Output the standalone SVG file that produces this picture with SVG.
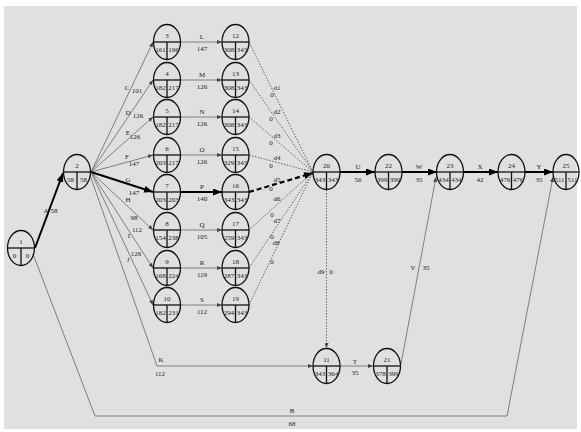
<svg xmlns="http://www.w3.org/2000/svg" width="581" height="432" viewBox="0 0 581 432">
<style>
.n ellipse{fill:none;stroke:#111;stroke-width:1.3}
.n line{stroke:#111;stroke-width:1.3}
text{font-family:"Liberation Serif","Times New Roman",serif;font-size:7px;fill:#222;text-anchor:middle}
.thin{stroke:#555;stroke-width:0.7;fill:none}
.heavy{stroke:#000;stroke-width:2;fill:none}
.dot{stroke:#444;stroke-width:0.8;stroke-dasharray:1.5 1.5;fill:none}
.hdash{stroke:#000;stroke-width:2.2;stroke-dasharray:5 3;fill:none}
</style>
<defs>
<marker id="ah" markerUnits="userSpaceOnUse" markerWidth="9" markerHeight="7" refX="9" refY="3.5" orient="auto"><path d="M0,0 L9,3.5 L0,7 z" fill="#000"/></marker>
<marker id="at" markerUnits="userSpaceOnUse" markerWidth="5" markerHeight="4" refX="5" refY="2" orient="auto"><path d="M0,0 L5,2 L0,4 z" fill="#444"/></marker>
</defs>
<rect width="581" height="432" fill="#fff"/>
<rect x="4" y="6" width="573" height="423" fill="#e0e0e0"/>
<g id="connectors">
<path class="heavy" d="M35,248 L63,173" marker-end="url(#ah)"/>
<path class="thin" d="M33,254 L95,416 L507,416 L553,177" marker-end="url(#at)"/>
<path class="thin" d="M91,172 L153,42" marker-end="url(#at)"/>
<path class="thin" d="M91,172 L153,80" marker-end="url(#at)"/>
<path class="thin" d="M91,172 L153,117" marker-end="url(#at)"/>
<path class="thin" d="M91,172 L153,155" marker-end="url(#at)"/>
<path class="heavy" d="M91,172 L153,192" marker-end="url(#ah)"/>
<path class="thin" d="M91,172 L153,230" marker-end="url(#at)"/>
<path class="thin" d="M91,172 L153,268" marker-end="url(#at)"/>
<path class="thin" d="M91,172 L153,305" marker-end="url(#at)"/>
<path class="thin" d="M90,175 L157,366 L313,366" marker-end="url(#at)"/>
<path class="thin" d="M181,42 L222,42" marker-end="url(#at)"/>
<path class="thin" d="M181,80 L222,80" marker-end="url(#at)"/>
<path class="thin" d="M181,117 L222,117" marker-end="url(#at)"/>
<path class="thin" d="M181,155 L222,155" marker-end="url(#at)"/>
<path class="heavy" d="M181,192 L222,192" marker-end="url(#ah)"/>
<path class="thin" d="M181,230 L222,230" marker-end="url(#at)"/>
<path class="thin" d="M181,268 L222,268" marker-end="url(#at)"/>
<path class="thin" d="M181,305 L222,305" marker-end="url(#at)"/>
<path class="dot" d="M249,42 L313,172"/>
<path class="dot" d="M249,80 L313,172"/>
<path class="dot" d="M249,117 L313,172"/>
<path class="dot" d="M249,155 L313,172"/>
<path class="hdash" d="M249,192 L313,173" marker-end="url(#ah)"/>
<path class="dot" d="M249,230 L313,172"/>
<path class="dot" d="M249,268 L313,172"/>
<path class="dot" d="M249,305 L313,172"/>
<path class="dot" d="M326.5,190 L326.5,348" marker-end="url(#at)"/>
<path class="heavy" d="M340,172 L375,172" marker-end="url(#ah)"/>
<path class="heavy" d="M402,172 L437,172" marker-end="url(#ah)"/>
<path class="heavy" d="M463,172 L498,172" marker-end="url(#ah)"/>
<path class="heavy" d="M525,172 L553,172" marker-end="url(#ah)"/>
<path class="thin" d="M340,366 L373,366" marker-end="url(#at)"/>
<path class="thin" d="M401,364 L436,177" marker-end="url(#at)"/>
</g>
<g id="labels">
<text x="46" y="213">A</text><text x="54" y="213">58</text>
<text x="292" y="412.5">B</text><text x="292" y="425.5">68</text>
<text x="127" y="90">C</text><text x="137" y="93">101</text>
<text x="128" y="115">D</text><text x="138" y="118">126</text>
<text x="128" y="135">E</text><text x="135" y="139">126</text>
<text x="127" y="159">F</text><text x="134" y="166">147</text>
<text x="128" y="182">G</text><text x="134" y="195">147</text>
<text x="128" y="202">H</text><text x="134" y="220">98</text>
<text x="137" y="232">112</text><text x="129" y="238">I</text>
<text x="136" y="256">126</text><text x="128" y="262">J</text>
<text x="161" y="361.5">K</text><text x="160" y="375.5">112</text>
<text x="202" y="39">L</text><text x="202" y="51">147</text>
<text x="202" y="77">M</text><text x="202" y="89">126</text>
<text x="202" y="114">N</text><text x="202" y="126">126</text>
<text x="202" y="152">O</text><text x="202" y="164">126</text>
<text x="202" y="189">P</text><text x="202" y="201">140</text>
<text x="202" y="227">Q</text><text x="202" y="239">105</text>
<text x="202" y="265">R</text><text x="202" y="277">119</text>
<text x="202" y="302">S</text><text x="202" y="314">112</text>
<text x="277" y="90">d1</text><text x="272" y="97">0</text>
<text x="277" y="114">d2</text><text x="271" y="121">0</text>
<text x="277" y="138">d3</text><text x="271" y="145">0</text>
<text x="277" y="160">d4</text><text x="271" y="168">0</text>
<text x="277" y="182">d5</text><text x="271" y="191">0</text>
<text x="277" y="201">d6</text><text x="272" y="217">0</text>
<text x="277" y="223">d7</text><text x="272" y="239">0</text>
<text x="276" y="245">d8</text><text x="272" y="264">0</text>
<text x="321" y="274">d9</text><text x="331" y="274">0</text>
<text x="358" y="168.5">U</text><text x="358" y="182">56</text>
<text x="419" y="168.5">W</text><text x="419" y="182">35</text>
<text x="480" y="168.5">X</text><text x="480" y="182">42</text>
<text x="539" y="168.5">Y</text><text x="539" y="182">35</text>
<text x="355" y="363.5">T</text><text x="355" y="374.5">35</text>
<text x="413" y="269.5">V</text><text x="426" y="269.5">35</text>
</g>
<g id="node1" class="n" transform="translate(21,248)"><ellipse rx="13.5" ry="17.5"/><line x1="-13.5" y1="0" x2="13.5" y2="0"/><line x1="0" y1="0" x2="0" y2="17.5"/><text y="-4">1</text><text x="-6.5" y="9.5">0</text><text x="6.5" y="9.5">0</text></g>
<g id="node2" class="n" transform="translate(77,172)"><ellipse rx="13.5" ry="17.5"/><line x1="-13.5" y1="0" x2="13.5" y2="0"/><line x1="0" y1="0" x2="0" y2="17.5"/><text y="-4">2</text><text x="-6.5" y="9.5">58</text><text x="6.5" y="9.5">58</text></g>
<g id="node3" class="n" transform="translate(167,42)"><ellipse rx="13.5" ry="17.5"/><line x1="-13.5" y1="0" x2="13.5" y2="0"/><line x1="0" y1="0" x2="0" y2="17.5"/><text y="-4">3</text><text x="-6.5" y="9.5">161</text><text x="6.5" y="9.5">196</text></g>
<g id="node4" class="n" transform="translate(167,80)"><ellipse rx="13.5" ry="17.5"/><line x1="-13.5" y1="0" x2="13.5" y2="0"/><line x1="0" y1="0" x2="0" y2="17.5"/><text y="-4">4</text><text x="-6.5" y="9.5">182</text><text x="6.5" y="9.5">217</text></g>
<g id="node5" class="n" transform="translate(167,117)"><ellipse rx="13.5" ry="17.5"/><line x1="-13.5" y1="0" x2="13.5" y2="0"/><line x1="0" y1="0" x2="0" y2="17.5"/><text y="-4">5</text><text x="-6.5" y="9.5">182</text><text x="6.5" y="9.5">217</text></g>
<g id="node6" class="n" transform="translate(167,155)"><ellipse rx="13.5" ry="17.5"/><line x1="-13.5" y1="0" x2="13.5" y2="0"/><line x1="0" y1="0" x2="0" y2="17.5"/><text y="-4">6</text><text x="-6.5" y="9.5">203</text><text x="6.5" y="9.5">217</text></g>
<g id="node7" class="n" transform="translate(167,192)"><ellipse rx="13.5" ry="17.5"/><line x1="-13.5" y1="0" x2="13.5" y2="0"/><line x1="0" y1="0" x2="0" y2="17.5"/><text y="-4">7</text><text x="-6.5" y="9.5">203</text><text x="6.5" y="9.5">203</text></g>
<g id="node8" class="n" transform="translate(167,230)"><ellipse rx="13.5" ry="17.5"/><line x1="-13.5" y1="0" x2="13.5" y2="0"/><line x1="0" y1="0" x2="0" y2="17.5"/><text y="-4">8</text><text x="-6.5" y="9.5">154</text><text x="6.5" y="9.5">238</text></g>
<g id="node9" class="n" transform="translate(167,268)"><ellipse rx="13.5" ry="17.5"/><line x1="-13.5" y1="0" x2="13.5" y2="0"/><line x1="0" y1="0" x2="0" y2="17.5"/><text y="-4">9</text><text x="-6.5" y="9.5">168</text><text x="6.5" y="9.5">224</text></g>
<g id="node10" class="n" transform="translate(167,305)"><ellipse rx="13.5" ry="17.5"/><line x1="-13.5" y1="0" x2="13.5" y2="0"/><line x1="0" y1="0" x2="0" y2="17.5"/><text y="-4">10</text><text x="-6.5" y="9.5">182</text><text x="6.5" y="9.5">231</text></g>
<g id="node12" class="n" transform="translate(235.5,42)"><ellipse rx="13.5" ry="17.5"/><line x1="-13.5" y1="0" x2="13.5" y2="0"/><line x1="0" y1="0" x2="0" y2="17.5"/><text y="-4">12</text><text x="-6.5" y="9.5">308</text><text x="6.5" y="9.5">343</text></g>
<g id="node13" class="n" transform="translate(235.5,80)"><ellipse rx="13.5" ry="17.5"/><line x1="-13.5" y1="0" x2="13.5" y2="0"/><line x1="0" y1="0" x2="0" y2="17.5"/><text y="-4">13</text><text x="-6.5" y="9.5">308</text><text x="6.5" y="9.5">343</text></g>
<g id="node14" class="n" transform="translate(235.5,117)"><ellipse rx="13.5" ry="17.5"/><line x1="-13.5" y1="0" x2="13.5" y2="0"/><line x1="0" y1="0" x2="0" y2="17.5"/><text y="-4">14</text><text x="-6.5" y="9.5">308</text><text x="6.5" y="9.5">343</text></g>
<g id="node15" class="n" transform="translate(235.5,155)"><ellipse rx="13.5" ry="17.5"/><line x1="-13.5" y1="0" x2="13.5" y2="0"/><line x1="0" y1="0" x2="0" y2="17.5"/><text y="-4">15</text><text x="-6.5" y="9.5">329</text><text x="6.5" y="9.5">343</text></g>
<g id="node16" class="n" transform="translate(235.5,192)"><ellipse rx="13.5" ry="17.5"/><line x1="-13.5" y1="0" x2="13.5" y2="0"/><line x1="0" y1="0" x2="0" y2="17.5"/><text y="-4">16</text><text x="-6.5" y="9.5">343</text><text x="6.5" y="9.5">343</text></g>
<g id="node17" class="n" transform="translate(235.5,230)"><ellipse rx="13.5" ry="17.5"/><line x1="-13.5" y1="0" x2="13.5" y2="0"/><line x1="0" y1="0" x2="0" y2="17.5"/><text y="-4">17</text><text x="-6.5" y="9.5">259</text><text x="6.5" y="9.5">343</text></g>
<g id="node18" class="n" transform="translate(235.5,268)"><ellipse rx="13.5" ry="17.5"/><line x1="-13.5" y1="0" x2="13.5" y2="0"/><line x1="0" y1="0" x2="0" y2="17.5"/><text y="-4">18</text><text x="-6.5" y="9.5">287</text><text x="6.5" y="9.5">343</text></g>
<g id="node19" class="n" transform="translate(235.5,305)"><ellipse rx="13.5" ry="17.5"/><line x1="-13.5" y1="0" x2="13.5" y2="0"/><line x1="0" y1="0" x2="0" y2="17.5"/><text y="-4">19</text><text x="-6.5" y="9.5">294</text><text x="6.5" y="9.5">343</text></g>
<g id="node20" class="n" transform="translate(326.5,172)"><ellipse rx="13.5" ry="17.5"/><line x1="-13.5" y1="0" x2="13.5" y2="0"/><line x1="0" y1="0" x2="0" y2="17.5"/><text y="-4">20</text><text x="-6.5" y="9.5">343</text><text x="6.5" y="9.5">343</text></g>
<g id="node22" class="n" transform="translate(388.5,172)"><ellipse rx="13.5" ry="17.5"/><line x1="-13.5" y1="0" x2="13.5" y2="0"/><line x1="0" y1="0" x2="0" y2="17.5"/><text y="-4">22</text><text x="-6.5" y="9.5">399</text><text x="6.5" y="9.5">399</text></g>
<g id="node23" class="n" transform="translate(450,172)"><ellipse rx="13.5" ry="17.5"/><line x1="-13.5" y1="0" x2="13.5" y2="0"/><line x1="0" y1="0" x2="0" y2="17.5"/><text y="-4">23</text><text x="-6.5" y="9.5">434</text><text x="6.5" y="9.5">434</text></g>
<g id="node24" class="n" transform="translate(511.5,172)"><ellipse rx="13.5" ry="17.5"/><line x1="-13.5" y1="0" x2="13.5" y2="0"/><line x1="0" y1="0" x2="0" y2="17.5"/><text y="-4">24</text><text x="-6.5" y="9.5">476</text><text x="6.5" y="9.5">476</text></g>
<g id="node25" class="n" transform="translate(566,172)"><ellipse rx="13" ry="17.5"/><line x1="-13" y1="0" x2="13" y2="0"/><line x1="0" y1="0" x2="0" y2="17.5"/><text y="-4">25</text><text x="-6.5" y="9.5">511</text><text x="6.5" y="9.5">511</text></g>
<g id="node11" class="n" transform="translate(326.5,366)"><ellipse rx="13.5" ry="17.5"/><line x1="-13.5" y1="0" x2="13.5" y2="0"/><line x1="0" y1="0" x2="0" y2="17.5"/><text y="-4">11</text><text x="-6.5" y="9.5">343</text><text x="6.5" y="9.5">364</text></g>
<g id="node21" class="n" transform="translate(387,366)"><ellipse rx="13.5" ry="17.5"/><line x1="-13.5" y1="0" x2="13.5" y2="0"/><line x1="0" y1="0" x2="0" y2="17.5"/><text y="-4">21</text><text x="-6.5" y="9.5">378</text><text x="6.5" y="9.5">399</text></g>
</svg>
